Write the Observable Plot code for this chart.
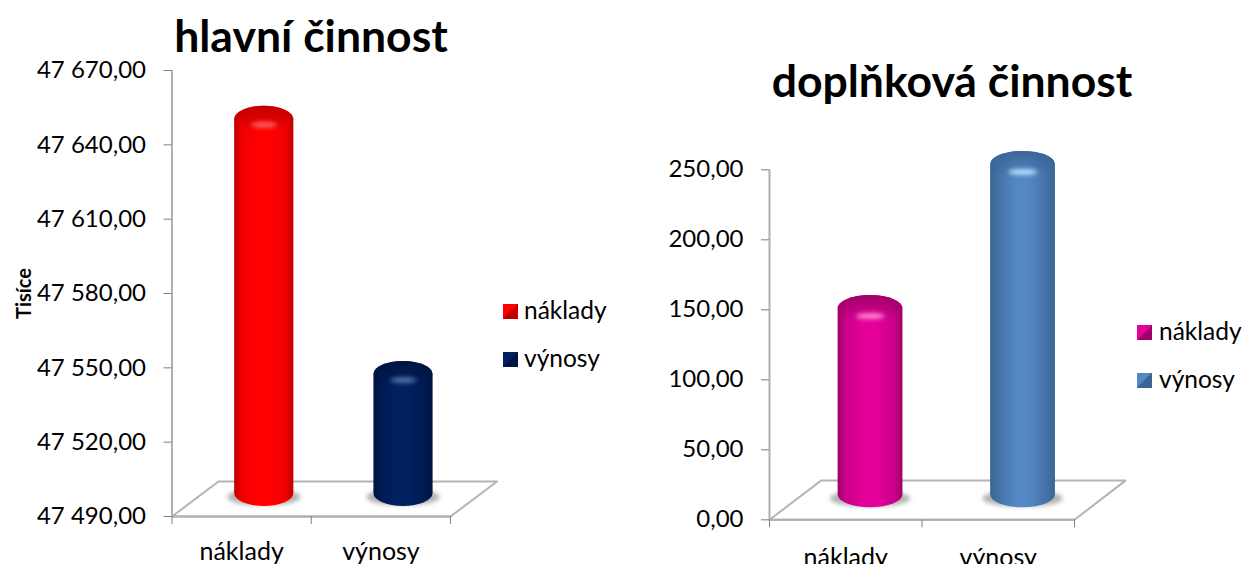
<!DOCTYPE html>
<html><head><meta charset="utf-8">
<script src="https://cdn.jsdelivr.net/npm/d3@7"></script>
<script src="https://cdn.jsdelivr.net/npm/@observablehq/plot@0.6"></script>
<style>
html,body{margin:0;padding:0;background:#fff}
#page{position:relative;width:1244px;height:564px;overflow:hidden;font-family:Lato,sans-serif;color:#000}
#page svg{position:absolute;top:0;overflow:visible;background:transparent}
.title{position:absolute;font-weight:700;font-size:44.5px;white-space:nowrap;transform:translate(-50%,-50%);line-height:1}
.leg{position:absolute;font-size:24.5px;white-space:nowrap;line-height:1;transform:translateY(-50%)}
.sw{position:absolute;width:15px;height:15px}
</style></head><body><div id="page"></div>
<script>
const categories = ["náklady", "výnosy"];
const mainValues = [47641, 47538];
const mainTicks = [47490, 47520, 47550, 47580, 47610, 47640, 47670];
const sideValues = [133, 236];
const sideTicks = [0, 50, 100, 150, 200, 250];
const mainColors = [["#c00000","#ff0000","#f00000","#ff5a5a"],["#001440","#002060","#001a52","#4d6fa8"]];
const sideColors = [["#a00068","#e6009a","#c8008a","#ff80d0"],["#3a6595","#5488c4","#4271a6","#b8dcff"]];
const fmt = d => {
  const [a, b] = d.toFixed(2).split(".");
  return a.replace(/\B(?=(\d{3})+$)/g, " ") + "," + b;
};
const page = document.getElementById("page");

function cylinderChart(o) {
  const rows = categories.map((c, i) => ({c, i, v: o.values[i]}));
  const base = o.domain[0];
  const defs = d3.create("svg:defs");
  o.colors.forEach((col, i) => {
    const g = defs.append("linearGradient").attr("id", o.id + "b" + i);
    [[0, col[0]], [.12, col[2]], [.4, col[1]], [.6, col[1]], [.88, col[2]], [1, col[0]]].forEach(([p, c]) =>
      g.append("stop").attr("offset", p).attr("stop-color", c));
    const h = defs.append("linearGradient").attr("id", o.id + "c" + i).attr("x2", 0).attr("y2", 1);
    h.append("stop").attr("offset", 0).attr("stop-color", col[0]);
    h.append("stop").attr("offset", 1).attr("stop-color", col[0]).attr("stop-opacity", 0);
  });
  const x1 = d => d.i + .45, x2 = d => d.i + .875;
  const cap = {dy: o.depth, rx: o.rx, ry: o.ry, insetTop: -o.ry, insetBottom: -o.ry};
  const svg = Plot.plot({
    width: o.width, height: 564,
    marginLeft: o.left, marginRight: o.width - o.right, marginTop: o.top, marginBottom: 564 - o.bottom,
    style: {fontFamily: "Lato", fontSize: "24px", background: "transparent", color: "#000"},
    x: {type: "linear", domain: [0, 2], axis: null},
    y: {type: "linear", domain: o.domain, axis: null},
    marks: [
      () => defs.node(),
      Plot.line(o.floorX.map((x, i) => [x, o.floorY[i]]), {x: d => d[0], y: d => d[1], stroke: "#b4b4b4", strokeWidth: 2, fill: "#fff"}),
      Plot.ruleX([0], {stroke: "#b0b0b0", strokeWidth: 2}),
      Plot.ruleY([base], {stroke: "#b0b0b0", strokeWidth: 2}),
      Plot.axisY({ticks: o.ticks, tickFormat: fmt, tickSize: 8, tickPadding: 18, stroke: "#808080", label: null, fontSize: 24}),
      o.label ? Plot.text([o.label], {text: d => d, frameAnchor: "left", textAnchor: "middle", dx: -147, rotate: -90, fontSize: 20, fontWeight: 700, fill: "#000"}) : null,
      Plot.axisX({ticks: [0, 1, 2], tickSize: 8, tickFormat: () => "", stroke: "#808080", label: null}),
      Plot.axisX({ticks: [.5, 1.5], tickSize: 0, tickPadding: o.labelPad, tickFormat: d => categories[Math.floor(d)], label: null, fontSize: 25}),
      Plot.rect(rows, {x1: d => x1(d) - .05, x2: d => x2(d) + .05, y1: base, y2: base, dy: o.depth + 4, rx: o.rx, ry: 8, insetTop: -8, insetBottom: -8, fill: "#808080", fillOpacity: .6, imageFilter: "blur(2px)"}),
      ...rows.map(d => Plot.rect([d], {x1, x2, y1: () => base, y2: "v", fill: `url(#${o.id}b${d.i})`, ...cap})),
      ...rows.map(d => Plot.rect([d], {x1, x2, y1: "v", y2: "v", fill: `url(#${o.id}c${d.i})`, ...cap})),
      ...rows.map(d => Plot.rect([d], {x1: d => d.i + .57, x2: d => d.i + .76, y1: "v", y2: "v", dy: o.depth + o.glint, rx: 14, ry: 3, insetTop: -3, insetBottom: -3, fill: o.colors[d.i][3], imageFilter: "blur(2px)"}))
    ]
  });
  svg.style.left = o.x + "px";
  page.appendChild(svg);
}

cylinderChart({
  id: "m", x: 0, width: 622, left: 171.5, right: 450, top: 70, bottom: 516,
  values: mainValues, ticks: mainTicks, domain: [47490, 47670], colors: mainColors,
  floorX: [0, .334, 2.334, 2, 0], floorY: [47490, 47504.1, 47504.1, 47490, 47490],
  depth: -23, rx: 30, ry: 13, label: "Tisíce", labelPad: 26, glint: 6
});
cylinderChart({
  id: "s", x: 622, width: 622, left: 147, right: 452, top: 169.3, bottom: 519.3,
  values: sideValues, ticks: sideTicks, domain: [0, 250], colors: sideColors,
  floorX: [0, .338, 2.334, 2, 0], floorY: [0, 28, 28, 0, 0],
  depth: -25, rx: 32, ry: 13, labelPad: 28, glint: 8
});

function title(text, x, y) {
  const d = document.createElement("div");
  d.className = "title"; d.textContent = text; d.style.left = x + "px"; d.style.top = y + "px";
  page.appendChild(d);
}
title("hlavní činnost", 311, 35);
title("doplňková činnost", 952, 80);

function legend(x, y, dark, mid, label, gap) {
  const s = document.createElement("div");
  s.className = "sw"; s.style.left = x + "px"; s.style.top = y + "px";
  s.style.background = `linear-gradient(135deg, ${mid} 0 50%, ${dark} 50% 100%)`;
  page.appendChild(s);
  const t = document.createElement("div");
  t.className = "leg"; t.textContent = label; t.style.left = (x + gap) + "px"; t.style.top = (y + 6) + "px";
  page.appendChild(t);
}
legend(503, 304, mainColors[0][0], mainColors[0][1], categories[0], 21);
legend(503, 352, mainColors[1][0], mainColors[1][1], categories[1], 21);
legend(1137, 325, sideColors[0][0], sideColors[0][1], categories[0], 22);
legend(1137, 373, sideColors[1][0], sideColors[1][1], categories[1], 22);
</script></body></html>
